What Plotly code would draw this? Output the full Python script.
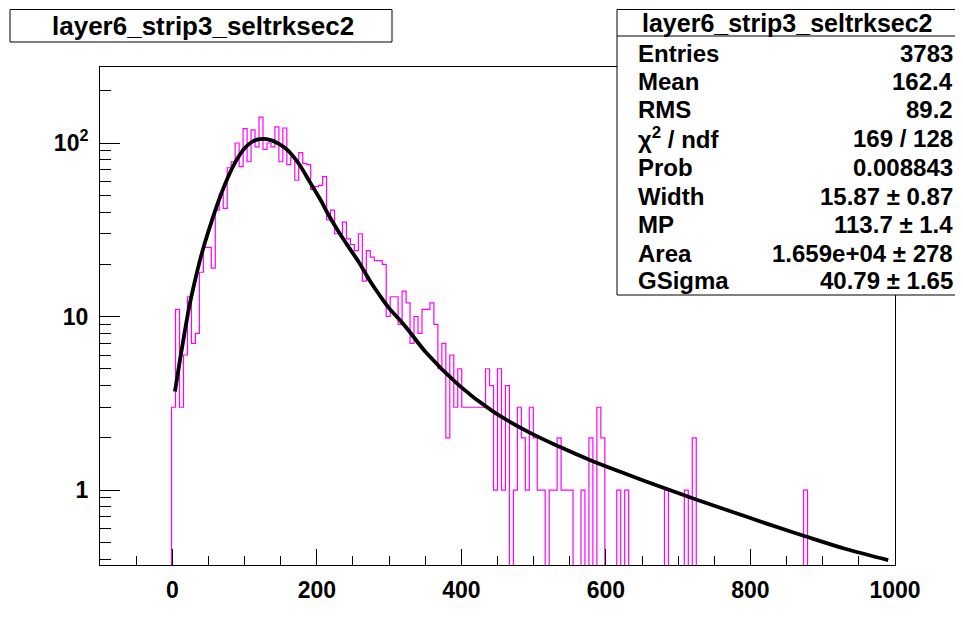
import numpy as np
import plotly.graph_objects as go

# ---------------- data ----------------
hist_title = "layer6_strip3_seltrksec2"
hist_xmin, hist_xmax, hist_nbins = -100.0, 1000.0, 200
first_filled_bin = 18          # bin whose low edge is x = -1

# counts per bin, starting at bin 18 (low edge -1, width 5.5)
bin_counts = [
    3, 11, 3, 6, 13, 7, 8, 18, 25, 25,
    19, 41, 51, 42, 72, 78, 100, 73, 121, 78,
    119, 95, 141, 92, 100, 95, 124, 78, 122, 75,
    83, 61, 88, 76, 75, 54, 56, 57, 64, 36,
    41, 30, 30, 35, 28, 26, 24, 30, 16, 24,
    22, 21, 21, 20, 10, 13, 13, 9, 14, 12,
    7, 10, 8, 11, 11, 12, 9, 5, 7, 2,
    6, 3, 5, 3, 3, 3, 3, 3, 3, 5,
    4, 1, 5, 1, 4, 0, 1, 3, 2, 1,
    3, 2, 1, 1, 0, 1, 1, 2, 1, 1,
    1, 0, 0, 1, 0, 2, 0, 3, 2, 0,
    0, 0, 1, 0, 1, 0, 0, 0, 0, 0,
    0, 0, 0, 0, 1, 0, 0, 0, 0, 1,
    0, 2, 0, 0, 0, 0, 0, 0, 0, 0,
    0, 0, 0, 0, 0, 0, 0, 0, 0, 0,
    0, 0, 0, 0, 0, 0, 0, 0, 0, 1,
]

# fitted Landau (x) Gauss curve
fit_x = [3.7, 10.6, 17.5, 24.4, 31.3, 38.2, 45.1, 52.1, 58.9, 65.8,
         72.7, 79.6, 86.5, 93.4, 100.3, 109.6, 118.7, 128.0, 137.2, 146.3,
         155.6, 162.5, 176.3, 190.0, 203.9, 217.7, 231.5, 245.3, 259.1, 272.9,
         286.7, 300.5, 314.3, 328.1, 351.1, 397.1, 443.1, 489.2, 535.1, 581.1,
         627.2, 682.4, 723.8, 774.3, 820.4, 875.7, 930.9, 990.6]
fit_y = [3.7, 5.6, 8.3, 11.9, 16.0, 21.0, 26.6, 33.0, 40.2, 48.5,
         57.5, 67.0, 76.5, 85.5, 93.5, 101.0, 104.8, 105.5, 103.5, 99.6,
         94.0, 88.5, 74.7, 59.9, 48.0, 37.6, 30.2, 24.7, 20.3, 16.2,
         13.3, 11.1, 9.6, 8.2, 6.2, 4.0, 2.85, 2.2, 1.78, 1.47,
         1.24, 1.02, 0.885, 0.75, 0.645, 0.542, 0.459, 0.395]

stat_labels = ["Entries", "Mean", "RMS", "χ<sup>2</sup> / ndf", "Prob",
               "Width", "MP", "Area", "GSigma"]
stat_values = ["3783", "162.4", "89.2", "169 / 128", "0.008843",
               "15.87 ± 0.87", "113.7 ± 1.4", "1.659e+04 ± 278", "40.79 ± 1.65"]

x_tickvals = [0, 200, 400, 600, 800, 1000]
y_tickvals = [1, 10, 100]
y_ticktext = ["1", "10", "10<sup>2</sup>"]
y_minor = [0.4, 0.5, 0.6, 0.7, 0.8, 0.9,
           2, 3, 4, 5, 6, 7, 8, 9,
           20, 30, 40, 50, 60, 70, 80, 90, 200]

# ---------------- build histogram outline ----------------
width = (hist_xmax - hist_xmin) / hist_nbins
counts = np.zeros(hist_nbins)
counts[first_filled_bin:first_filled_bin + len(bin_counts)] = bin_counts
edges = hist_xmin + width * np.arange(hist_nbins + 1)
floor = 1e-3   # empty bins drawn below the visible log range (as ROOT does)
y_step = np.where(counts > 0, counts, floor)
y_step = np.append(y_step, y_step[-1])

FONT = "Liberation Sans, Arial, Helvetica, sans-serif"

fig = go.Figure()
fig.add_trace(go.Scatter(x=edges, y=y_step, mode="lines", line_shape="hv",
                         line=dict(color="#ff00ff", width=1.2),
                         hoverinfo="skip", showlegend=False))
fig.add_trace(go.Scatter(x=fit_x, y=fit_y, mode="lines", line_shape="spline",
                         line=dict(color="black", width=3.8, smoothing=1.0),
                         hoverinfo="skip", showlegend=False))

# the page body adds an 8 px margin; window-pixel layout compensated below
OFF = 8
WIN_W, WIN_H = 963, 617
# plot area in window pixels
PL, PR, PT, PB = 100, 895, 67, 565
def px(x):
    return (x - PL) / (PR - PL)
def py(y):
    return (PB - y) / (PB - PT)

tickfont = dict(family=FONT, size=23, color="black", weight="bold")

fig.update_xaxes(range=[hist_xmin, hist_xmax], showgrid=False, zeroline=False,
                 automargin=False,
                 showline=True, linecolor="black", linewidth=1, mirror=True,
                 ticks="inside", ticklen=16, tickwidth=1, tickcolor="black",
                 tickmode="array", tickvals=x_tickvals, tickfont=tickfont,
                 ticklabelstandoff=4,
                 minor=dict(ticks="inside", ticklen=9, tickwidth=1,
                            tickcolor="black", dtick=50, tick0=0, showgrid=False))
fig.update_yaxes(type="log", range=[-0.432, 2.438], showgrid=False, zeroline=False,
                 automargin=False,
                 showline=True, linecolor="black", linewidth=1, mirror=True,
                 ticks="inside", ticklen=20, tickwidth=1, tickcolor="black",
                 tickmode="array", tickvals=y_tickvals, ticktext=y_ticktext,
                 tickfont=tickfont, ticklabelstandoff=6,
                 minor=dict(ticks="inside", ticklen=11, tickwidth=1,
                            tickcolor="black", tickmode="array",
                            tickvals=y_minor, showgrid=False))

shapes = []
annotations = []
# title box
shapes.append(dict(type="rect", xref="paper", yref="paper",
                   x0=px(10), x1=px(392), y0=py(42), y1=py(9.5),
                   line=dict(color="black", width=1), fillcolor="white",
                   layer="above"))
annotations.append(dict(xref="paper", yref="paper", x=px(203), y=py(26),
                        text=hist_title, showarrow=False,
                        xanchor="center", yanchor="middle",
                        font=dict(family=FONT, size=26, color="black", weight="bold")))
# stats box
shapes.append(dict(type="rect", xref="paper", yref="paper",
                   x0=px(617), x1=px(959), y0=py(295), y1=py(9.5),
                   line=dict(color="black", width=1), fillcolor="white",
                   layer="above"))
shapes.append(dict(type="line", xref="paper", yref="paper",
                   x0=px(617), x1=px(959), y0=py(36), y1=py(36),
                   line=dict(color="black", width=1), layer="above"))
annotations.append(dict(xref="paper", yref="paper", x=px(787), y=py(23),
                        text=hist_title, showarrow=False,
                        xanchor="center", yanchor="middle",
                        font=dict(family=FONT, size=25, color="black", weight="bold")))
row_y = [53, 81, 109, 138, 167, 196, 224, 253, 280]
sfont = dict(family=FONT, size=24, color="black", weight="bold")
for lab, val, yy in zip(stat_labels, stat_values, row_y):
    annotations.append(dict(xref="paper", yref="paper", x=px(636), y=py(yy),
                            text=lab, showarrow=False, xanchor="left",
                            yanchor="middle", font=sfont))
    annotations.append(dict(xref="paper", yref="paper", x=px(955), y=py(yy),
                            text=val, showarrow=False, xanchor="right",
                            yanchor="middle", font=sfont))

fig.update_layout(width=WIN_W - OFF, height=WIN_H - OFF, autosize=False,
                  margin=dict(l=PL - OFF, r=WIN_W - PR, t=PT - OFF,
                              b=WIN_H - PB, pad=0),
                  paper_bgcolor="white", plot_bgcolor="white",
                  shapes=shapes, annotations=annotations, showlegend=False)

fig.write_html("out.html")
